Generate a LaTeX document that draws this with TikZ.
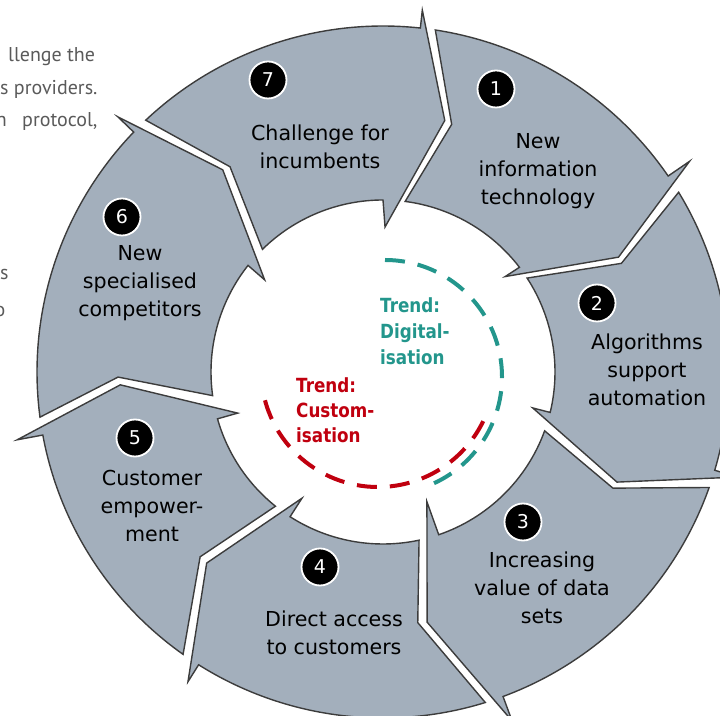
\documentclass[tikz,border=0pt]{standalone}
\usepackage{fontspec}
\setmainfont{DejaVu Sans}
\newfontfamily\trendfont[FakeStretch=0.86]{DejaVu Sans}
\newfontfamily\bgfont{PT Sans}
\definecolor{segfill}{HTML}{A3AFBC}
\definecolor{segline}{HTML}{3C3C3C}
\definecolor{trteal}{HTML}{23968C}
\definecolor{trred}{HTML}{C0000F}
\definecolor{bggray}{HTML}{5A5A5A}
\begin{document}
\begin{tikzpicture}[x=1pt,y=1pt,
  seg/.style={fill=segfill, draw=segline, line width=1.4pt, line join=miter},
  num/.style={circle, fill=black, draw=white, line width=1.8pt, minimum size=37pt, inner sep=0pt, text=white, font=\fontsize{19}{19}\selectfont},
  lab/.style={align=center, inner sep=0pt, text=black, font=\fontsize{20.6}{28}\selectfont},
  trendtxt/.style={anchor=base west, inner sep=0pt, font=\trendfont\bfseries\fontsize{19.5}{25}\selectfont},
  bgtxt/.style={anchor=base west, inner sep=0pt, text=bggray, font=\bgfont\fontsize{20}{32}\selectfont},
  ring/.style={dash pattern=on 20pt off 13pt, line width=4pt}]
\useasboundingbox (0,0) rectangle (720,715);
\clip (0,0) rectangle (720,715);
% background text of the page
\node[bgtxt] (bg1) at (8,653) {llenge the};
\node[bgtxt] (bg2) at (0,620) {s providers.};
\node[bgtxt] (bg3) at (22,588) {protocol,};
\node[bgtxt, anchor=base east] (bg3b) at (7,588) {n};
\node[bgtxt] (bg4) at (0,435) {s};
\node[bgtxt, anchor=base] (bg5) at (0,398) {o};
% ring segments
\begin{scope}[shift={(383,343)}]
\foreach \So/\Eo/\rBo/\T/\rT/\Bi/\rBi/\Ei/\Si/\N/\rN in {
  81.3/34.5/372/26.0/262/38/155/37.5/82.6/74.5/257,
  31.3/-16.5/370/-25.2/258.6/-13.5/154/-13.6/33.1/24.5/262,
  -19.5/-69.7/372/-80/254/-71.3/137/-71.1/-20/-26.8/257.6,
  -72.8/-122.2/366/-132.7/260/-122.7/150/-122.7/-77.9/-82.1/253,
  -125.3/-169.5/372/-177.2/263/-164.2/151/-164.2/-128.7/-134.7/260,
  -172.5/-223.9/368/-231.6/258/-217.9/150/-218.3/-172.1/-178.9/265,
  133.3/83.8/364/76.2/259/89.2/145/90/134.5/126.7/256}{
  \filldraw[seg] (\So:346pt) arc[start angle=\So, end angle=\Eo, radius=346pt]
    -- (\Eo:\rBo pt) -- (\T:\rT pt) -- (\Bi:\rBi pt) -- (\Ei:172pt)
    arc[start angle=\Ei, end angle=\Si, radius=172pt]
    -- (\N:\rN pt) -- cycle;
}
\end{scope}
% dashed trend circles
\coordinate (tc) at (385,338);
\coordinate (rc) at (378,345);
\draw[ring, trteal] (tc) ++(90:117pt) arc[start angle=90, end angle=-70, radius=117pt];
\draw[ring, trred] (rc) ++(195:117pt) arc[start angle=195, end angle=339, radius=117pt];
% trend texts
\node[trendtxt, text=trteal] (td1) at (380,402) {Trend:};
\node[trendtxt, text=trteal] (td2) at (380,376) {Digital-};
\node[trendtxt, text=trteal] (td3) at (380,350) {isation};
\node[trendtxt, text=trred] (tr1) at (296,322) {Trend:};
\node[trendtxt, text=trred] (tr2) at (296,297) {Custom-};
\node[trendtxt, text=trred] (tr3) at (296,272) {isation};
% number badges
\node[num] (n1) at (496,626) {1};
\node[num] (n2) at (597,412) {2};
\node[num] (n3) at (523,193) {3};
\node[num] (n4) at (320,148) {4};
\node[num] (n5) at (135,277) {5};
\node[num] (n6) at (122,498) {6};
\node[num] (n7) at (268,635) {7};
% labels
\node[lab] (l1) at (538,544) {New\\information\\technology};
\node[lab] (l2) at (647,345) {Algorithms\\support\\automation};
\node[lab] (l3) at (542,127) {Increasing\\value of data\\sets};
\node[lab] (l4) at (334,82) {Direct access\\to customers};
\node[lab] (l5) at (152,209) {Customer\\empower-\\ment};
\node[lab] (l6) at (140,432) {New\\specialised\\competitors};
\node[lab] (l7) at (320,568) {Challenge for\\incumbents};
\end{tikzpicture}
\end{document}
